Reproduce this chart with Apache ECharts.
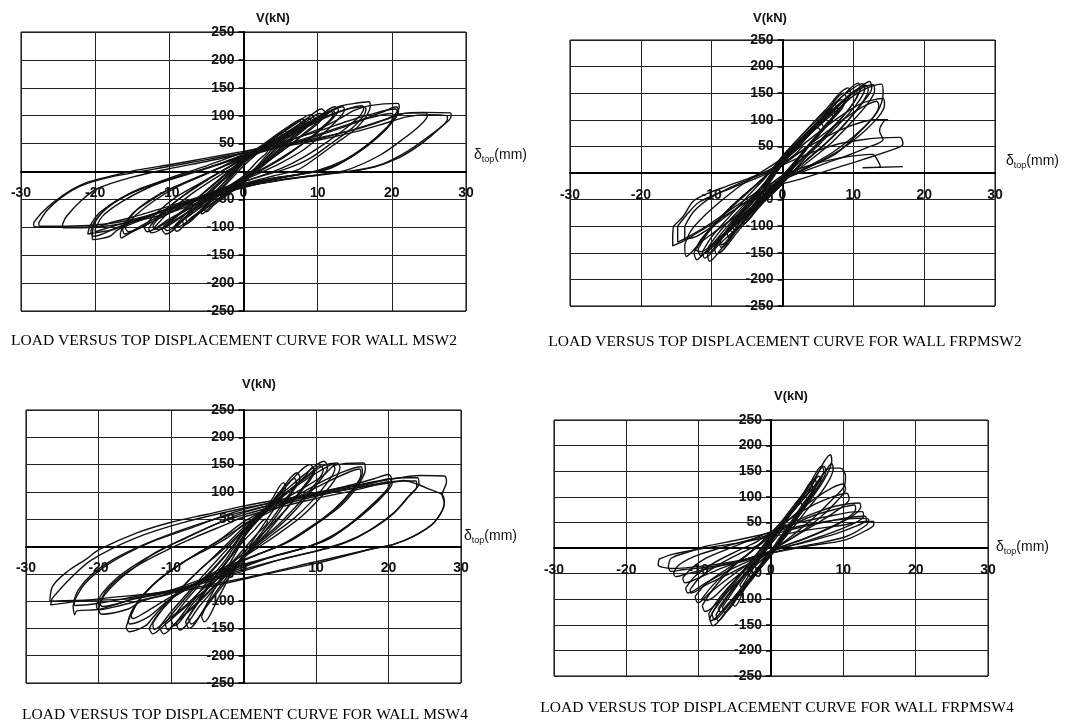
<!DOCTYPE html>
<html><head><meta charset="utf-8">
<script src="https://cdn.jsdelivr.net/npm/echarts@6/dist/echarts.min.js"></script>
<style>html,body{margin:0;padding:0;background:#fff}#c{width:1066px;height:722px}</style>
</head><body><div id="c"></div>
<script>
// ---- axis ticks ----
const xTicks = [-30, -20, -10, 0, 10, 20, 30];
const yTicks = [-250, -200, -150, -100, -50, 0, 50, 100, 150, 200, 250];
const panelTitles = [
  'LOAD VERSUS TOP DISPLACEMENT CURVE FOR WALL MSW2',
  'LOAD VERSUS TOP DISPLACEMENT CURVE FOR WALL FRPMSW2',
  'LOAD VERSUS TOP DISPLACEMENT CURVE FOR WALL MSW4',
  'LOAD VERSUS TOP DISPLACEMENT CURVE FOR WALL FRPMSW4'
];
const yName = 'V(kN)';

// ---- hysteresis loops [displacement mm, load kN] ----
const msw2Loops = [
  [[-3.3,-36],[-2,-18],[0,10],[1.5,28],[3,42],[3.3,38],[2,20],[0,-8],[-1.5,-25],[-3,-40],[-3.3,-36]],
  [[-5.4,-66],[-4,-45],[-2,-15],[0,15],[2,38],[4,58],[5,68],[5.4,62],[4,42],[2,12],[0,-15],[-2,-38],[-4,-60],[-5,-72],[-5.4,-66]],
  [[-5.8,-70],[-4,-42],[-2,-10],[0,20],[2.5,45],[4.5,64],[5.6,72],[5.9,66],[4.5,45],[2,8],[0,-20],[-2.5,-45],[-4.5,-64],[-5.6,-76],[-5.8,-70]],
  [[-7.8,-84],[-6,-65],[-3,-25],[0,15],[3,48],[6,78],[7.5,90],[7.9,84],[6,60],[3,22],[0,-15],[-3,-45],[-6,-75],[-7.5,-92],[-7.8,-84]],
  [[-8.2,-88],[-6,-58],[-3,-18],[0,22],[3,52],[6,80],[8,94],[8.3,88],[6.5,62],[3.5,25],[0,-12],[-3,-40],[-6,-72],[-8,-96],[-8.2,-88]],
  [[-9.5,-100],[-7,-72],[-4,-32],[0,18],[4,58],[7,85],[9,102],[9.5,96],[7,65],[4,28],[0,-15],[-4,-55],[-7,-82],[-9,-107],[-9.5,-100]],
  [[-9.2,-96],[-7,-66],[-4,-28],[0,16],[4,54],[7,80],[8.8,96],[9.1,90],[7,62],[4,25],[0,-18],[-4,-56],[-7,-84],[-9,-100],[-9.2,-96]],
  [[-11,-104],[-8.5,-75],[-5,-35],[0,20],[4,55],[8,88],[10.5,112],[11,106],[8.5,72],[5,35],[1,0],[-3,-35],[-7,-72],[-10.5,-112],[-11,-104]],
  [[-10.8,-98],[-8,-68],[-4,-22],[0,22],[5,62],[8.5,90],[10.3,104],[10.8,100],[8,65],[4,25],[0,-12],[-4,-48],[-8,-85],[-10.3,-106],[-10.8,-98]],
  [[-12.8,-102],[-11.5,-80],[-9,-52],[-6,-25],[-3,0],[0,22],[4,50],[8,82],[10.5,102],[12.3,116],[12.8,110],[11.5,88],[9,60],[6,32],[3,8],[0,-12],[-3,-35],[-6,-60],[-9,-85],[-12.4,-110],[-12.8,-102]],
  [[-12.2,-96],[-10.5,-70],[-8,-42],[-5,-15],[-2,8],[0,24],[4,52],[8,80],[11,104],[12,110],[12.3,104],[11,82],[8.5,55],[5.5,26],[2.5,3],[0,-14],[-4,-42],[-8,-72],[-11,-96],[-12,-104],[-12.2,-96]],
  [[-12,-100],[-10,-72],[-7,-40],[-3,-5],[0,18],[4,48],[8,78],[11,100],[11.8,108],[12.1,102],[10.5,78],[8,50],[5,22],[2,0],[0,-15],[-4,-45],[-8,-78],[-11.5,-104],[-12,-100]],
  [[-13.4,-100],[-12,-78],[-9,-45],[-5,-15],[-2,8],[0,24],[4,52],[8,80],[11,102],[13.4,116],[13.6,110],[12.5,90],[10.5,65],[8,38],[5,15],[2,-4],[-2,-28],[-6,-55],[-10,-85],[-13,-108],[-13.4,-100]],
  [[-16.6,-110],[-16,-93],[-14.7,-72],[-12.4,-51],[-10.2,-33],[-6,-10],[-3,8],[0,28],[4,55],[8,83],[11,104],[13,117],[15,122],[16.9,125],[17.1,118],[15.4,80],[12.2,48],[9.1,18],[7.3,3],[4,-8],[0,-22],[-4,-40],[-8,-62],[-12,-88],[-15,-108],[-16.5,-119],[-16.6,-110]],
  [[-16.3,-104],[-15.5,-86],[-14,-64],[-11.5,-42],[-8,-20],[-4,2],[0,24],[4,50],[8,78],[11,98],[13.5,110],[16.3,116],[16.5,110],[15,82],[12,52],[9,24],[6,6],[2,-10],[-2,-26],[-6,-46],[-10,-70],[-13.5,-95],[-16,-112],[-16.3,-104]],
  [[-16,-100],[-14.5,-78],[-12,-52],[-9,-28],[-5,-4],[0,26],[4,50],[8,76],[11,96],[14,112],[16,118],[16.2,112],[14.5,85],[11.5,55],[8,25],[5,5],[1,-14],[-3,-32],[-8,-60],[-12,-88],[-15.5,-108],[-16,-100]],
  [[-20.4,-115],[-20.1,-93],[-18.7,-69],[-16.5,-48],[-13.8,-30],[-10,-15],[-5,5],[0,30],[5,50],[10,75],[13,95],[15,110],[17,118],[20.8,122],[21,115],[20.2,98],[19.4,78],[16.3,42],[12.7,12],[10.5,1],[6,-8],[0,-22],[-5,-42],[-10,-66],[-14,-88],[-17,-105],[-18,-116],[-20.3,-122],[-20.4,-115]],
  [[-20.8,-100],[-19.5,-75],[-17,-52],[-14,-32],[-10,-12],[-5,10],[0,34],[5,52],[10,72],[14,90],[17,102],[20.5,112],[20.8,105],[19.5,80],[17,50],[14,22],[11.5,5],[7,-6],[0,-26],[-6,-48],[-11,-70],[-15,-90],[-17.5,-104],[-20,-110],[-21,-112],[-20.8,-100]],
  [[-20.6,-108],[-20,-88],[-18,-60],[-15,-38],[-11,-18],[-6,2],[0,28],[5,46],[10,66],[14,84],[17,98],[19,108],[20.6,116],[20.9,108],[20,88],[18,62],[15.5,35],[12.5,12],[9,-2],[4,-12],[0,-24],[-5,-45],[-10,-68],[-14,-86],[-17,-100],[-20.2,-116],[-20.6,-108]],
  [[-20,-104],[-19,-80],[-16.5,-55],[-13,-30],[-9,-10],[-4,10],[0,26],[5,44],[10,64],[14,82],[17,96],[20,104],[20.3,98],[19,75],[16.5,46],[13.5,20],[10,2],[5,-12],[0,-25],[-5,-46],[-10,-68],[-15,-88],[-20,-108],[-20,-104]],
  [[-24.4,-95],[-23.9,-81],[-21.8,-51],[-19.6,-30],[-15,-10],[-10,5],[-5,18],[0,32],[5,44],[10,58],[15,76],[19,93],[21,103],[24.6,105],[24.8,100],[23.9,84],[21.7,60],[18.5,30],[14,3],[10,-6],[5,-15],[0,-27],[-5,-42],[-10,-62],[-15,-82],[-18,-92],[-20,-100],[-24.3,-101],[-24.4,-95]],
  [[-28.3,-92],[-27.2,-74],[-25.5,-54],[-23.2,-33],[-21,-19],[-17.5,-7],[-14.2,3],[-10,12],[-5,24],[0,36],[5,47],[10,60],[15,75],[19,92],[21.6,104],[24,106],[27.9,105],[28,100],[27.7,92],[25.3,66],[22.1,36],[18.5,12],[14.9,1],[10,-6],[5,-15],[0,-29],[-5,-50],[-10,-74],[-15,-90],[-19.6,-99],[-24,-100],[-28.2,-99],[-28.3,-92]],
  [[-27.6,-92],[-26.5,-70],[-24.5,-46],[-22,-26],[-18,-10],[-13,2],[-8,14],[-3,26],[0,33],[5,44],[10,56],[15,71],[19,86],[22,98],[25,102],[27.4,100],[27.5,94],[26.5,78],[24,50],[21,25],[17.5,8],[13,-2],[8,-10],[3,-20],[0,-28],[-5,-46],[-10,-68],[-15,-86],[-20,-96],[-24,-98],[-27.5,-98],[-27.6,-92]]
];

const frpmsw2Loops = [
  [[-3.3,-42],[-2,-20],[0,15],[2,38],[3,50],[3.3,45],[2,25],[0,-12],[-2,-32],[-3,-48],[-3.3,-42]],
  [[-5.4,-80],[-3.5,-50],[-1.5,-12],[0,18],[2.5,52],[5,85],[5.4,78],[3.5,50],[1.5,15],[0,-12],[-2.5,-45],[-5,-88],[-5.4,-80]],
  [[-5.8,-88],[-4,-58],[-2,-18],[0,22],[3,62],[5.5,92],[5.8,85],[4,58],[2,22],[0,-15],[-3,-55],[-5.5,-95],[-5.8,-88]],
  [[-7.5,-104],[-5.5,-72],[-3,-30],[0,25],[3,62],[5,90],[7,120],[7.4,112],[5.5,80],[3,38],[1,5],[0,-15],[-3,-52],[-5,-80],[-7,-112],[-7.5,-104]],
  [[-7.9,-112],[-6,-80],[-3.5,-38],[-1,5],[0,28],[3,70],[5.5,102],[7.5,128],[7.8,120],[6,90],[3.5,50],[1,10],[-1,-20],[-3.5,-58],[-6,-92],[-7.5,-122],[-7.9,-112]],
  [[-7,-100],[-5,-68],[-2.5,-28],[0,22],[2.5,55],[5,88],[6.8,112],[7.1,105],[5.5,78],[3,40],[0.5,2],[-1.5,-28],[-4,-65],[-6.8,-108],[-7,-100]],
  [[-9,-130],[-7,-92],[-4.5,-50],[-2,-10],[0,25],[3,70],[6,112],[8.6,150],[9,142],[7.5,112],[5,72],[2.5,32],[0,-18],[-3,-55],[-6,-98],[-8.6,-140],[-9,-130]],
  [[-9.6,-142],[-7.5,-100],[-5,-58],[-2.5,-18],[0,30],[3,75],[6,118],[9.3,160],[9.6,150],[8,118],[5.5,78],[3,40],[0,-20],[-3,-60],[-6,-105],[-9.3,-152],[-9.6,-142]],
  [[-8.8,-128],[-7,-95],[-4.5,-55],[-2,-15],[0,22],[3,65],[6,105],[8.3,138],[8.7,130],[7,100],[4.5,62],[2,25],[0,-10],[-3,-50],[-6,-92],[-8.6,-135],[-8.8,-128]],
  [[-10.6,-150],[-9.5,-128],[-7,-88],[-4.5,-50],[-2,-15],[0,22],[3,65],[6,108],[8.5,145],[10.7,169],[11,160],[10,132],[7.5,90],[5,55],[2.5,22],[0,-10],[-3,-52],[-6,-100],[-8.5,-140],[-10.3,-166],[-10.6,-150]],
  [[-11.3,-148],[-10,-120],[-7.5,-82],[-5,-45],[-2.5,-10],[0,32],[3,75],[6,115],[9,150],[11.3,168],[11.6,158],[10.5,130],[8,92],[5.5,58],[3,25],[0,-20],[-3,-58],[-6,-98],[-9,-135],[-11,-160],[-11.3,-148]],
  [[-10.5,-140],[-9,-112],[-6.5,-75],[-4,-40],[-1.5,-5],[0,20],[3,62],[6,102],[9,140],[10.3,155],[10.6,148],[9.5,122],[7,85],[4.5,50],[2,18],[0,-8],[-3,-45],[-6,-88],[-9,-128],[-10.3,-150],[-10.5,-140]],
  [[-12.5,-150],[-11.5,-125],[-9.5,-95],[-7,-60],[-4,-25],[-1.5,5],[0,25],[3,62],[6,100],[9,140],[11,162],[12.3,172],[12.6,160],[11.5,135],[9,95],[6.5,60],[3.5,25],[0,-12],[-3,-45],[-6,-85],[-9,-125],[-11,-150],[-12.1,-163],[-12.5,-150]],
  [[-11.9,-142],[-10.5,-112],[-8,-75],[-5,-38],[-2,0],[0,28],[3,68],[6,105],[9,142],[11.8,165],[12.1,155],[11,128],[8.5,88],[6,55],[3,20],[0,-18],[-3,-50],[-6,-90],[-9,-128],[-11.6,-155],[-11.9,-142]],
  [[-12.3,-145],[-11,-118],[-8.5,-80],[-5.5,-42],[-2.5,-8],[0,28],[3,68],[6,105],[9,140],[11,158],[12.8,166],[13,155],[12,130],[9.5,92],[7,58],[4,25],[0,-16],[-3,-48],[-6,-88],[-9,-122],[-11.5,-148],[-12.3,-145]],
  [[-13.8,-135],[-13,-110],[-11,-80],[-8,-45],[-5,-15],[-2,10],[0,28],[4,75],[7,110],[10,145],[12,160],[14,167],[14.2,150],[13.3,113],[10.5,72],[7.6,37],[3.9,12],[0,-12],[-3,-40],[-6,-75],[-9,-105],[-11.5,-130],[-13.6,-157],[-13.8,-135]],
  [[-15.4,-100],[-14,-81],[-12.6,-53],[-10.3,-37],[-7.9,-25],[-4.6,-9],[-2,5],[0,22],[4,65],[8,105],[11,130],[13,138],[14.2,140],[14.4,128],[13.5,105],[11,72],[8,42],[5,20],[2,0],[0,-14],[-3,-38],[-6,-62],[-9,-88],[-12,-112],[-14,-128],[-15.5,-137],[-15.5,-118],[-15.4,-100]],
  [[-14.8,-100],[-13.5,-78],[-11.8,-55],[-9,-38],[-6,-22],[-3,-6],[0,15],[4,55],[8,95],[11,122],[13.3,135],[13.6,125],[12.5,100],[10,68],[7,38],[4,15],[1,-5],[-2,-22],[-5,-48],[-8,-75],[-11,-102],[-13.6,-122],[-14.8,-130],[-14.8,-100]],
  [[-13.8,-100],[-12.5,-72],[-10,-45],[-7,-25],[-4,-8],[-1.5,6],[0,18],[4,52],[8,80],[11,95],[13,100],[14.9,100],[14.3,97],[13.7,79],[14.2,63],[12,48],[9,32],[6,18],[3,3],[0,-12],[-3,-35],[-6,-62],[-9,-92],[-12,-118],[-13.8,-125],[-13.8,-100]],
  [[0,15],[4,38],[8,55],[11,62],[13.7,66],[16.6,67],[17,55],[16.4,48],[11.3,25],[6.7,6],[2.4,-12],[0,-20],[-2,-25],[0,-5],[4,15],[8,28],[12.7,35],[13.5,22],[13.8,12],[11.3,10],[17,12]]
];

const msw4Loops = [
  [[-3.3,-45],[-2,-22],[0,10],[1.5,30],[3,50],[3.3,45],[2,25],[0,-5],[-1.5,-28],[-3,-52],[-3.3,-45]],
  [[-5.8,-128],[-4.5,-90],[-2.5,-45],[-1,-10],[0,15],[2,50],[4,88],[5.5,117],[5.8,108],[4.5,75],[2.5,35],[0.5,-5],[-1.5,-45],[-3.5,-95],[-5.4,-138],[-5.8,-128]],
  [[-8,-138],[-6.5,-105],[-4.5,-65],[-2,-22],[0,20],[2.5,58],[5,100],[7.4,135],[7.8,125],[6.5,95],[4.5,55],[2,12],[0,-18],[-2.5,-60],[-5,-105],[-7.5,-150],[-8,-138]],
  [[-7.6,-130],[-6,-98],[-4,-58],[-1.5,-15],[0,18],[2.5,55],[5,95],[7,125],[7.3,118],[6,90],[4,52],[1.5,8],[0,-22],[-2.5,-65],[-5,-108],[-7.2,-142],[-7.6,-130]],
  [[-9.3,-140],[-7.5,-108],[-5,-65],[-2.5,-25],[0,25],[3,68],[6,112],[9.2,150],[9.7,140],[8,105],[5.5,62],[3,22],[0,-18],[-3,-62],[-6,-108],[-8.8,-153],[-9.3,-140]],
  [[-10,-135],[-8,-100],[-5.5,-62],[-3,-25],[0,25],[3,62],[6,98],[8.6,130],[9.5,145],[9.8,138],[8.5,110],[6,70],[3.5,35],[1,2],[-1,-24],[-4,-65],[-7,-105],[-9.5,-145],[-10,-135]],
  [[-11.6,-148],[-10,-120],[-7.5,-82],[-5,-45],[-2.5,-8],[0,30],[3,70],[6,105],[9,138],[11.1,156],[11.6,145],[10,112],[7.5,72],[5,38],[2,5],[0,-20],[-3,-58],[-6,-98],[-9,-135],[-11,-160],[-11.6,-148]],
  [[-10.8,-140],[-9,-110],[-6.5,-72],[-4,-38],[-1.5,0],[0,28],[3,66],[6,100],[9,132],[10.6,148],[11,140],[9.5,108],[7,70],[4.5,36],[1.5,2],[0,-22],[-3,-60],[-6,-100],[-9,-136],[-10.5,-152],[-10.8,-140]],
  [[-13,-150],[-12,-128],[-10,-98],[-7.5,-62],[-5,-30],[-2.5,2],[0,35],[3,70],[6,100],[9,130],[11,148],[12.9,153],[13.3,145],[12.5,120],[10.5,88],[8,55],[5,25],[2,-2],[0,-20],[-3,-52],[-6,-88],[-9,-122],[-11,-145],[-12.5,-160],[-13,-150]],
  [[-12.5,-140],[-11,-112],[-8.5,-75],[-6,-42],[-3,-8],[0,30],[3,66],[6,98],[9,126],[11.5,146],[12.3,150],[12.6,142],[11.5,116],[9.5,84],[7,52],[4,22],[1,-8],[-2,-32],[-5,-70],[-8,-108],[-11,-140],[-12.3,-152],[-12.5,-140]],
  [[-16.2,-148],[-15.7,-130],[-14.5,-100],[-12,-65],[-9,-35],[-6,-10],[-3,15],[0,45],[4,75],[8,105],[11,130],[12.5,148],[14,152],[16.6,153],[16.8,141],[15.7,110],[13.4,74],[9.7,38],[6,7],[1.4,-17],[-3,-40],[-7,-70],[-10,-95],[-12.5,-130],[-13.5,-145],[-15.8,-156],[-16.2,-148]],
  [[-15.9,-135],[-15.3,-115],[-13.8,-88],[-11.5,-58],[-8.5,-30],[-5,-5],[-2,18],[0,40],[4,70],[8,98],[11,120],[14,138],[16.2,146],[16.4,135],[15.2,105],[12.8,70],[9,34],[5.5,5],[1,-20],[-3,-44],[-7,-72],[-10.5,-100],[-13,-128],[-15.7,-142],[-15.9,-135]],
  [[-15.5,-126],[-14.5,-100],[-12.5,-70],[-10,-44],[-7,-18],[-3.5,10],[0,38],[4,66],[8,94],[11.5,118],[14.5,136],[16,142],[16.2,132],[15,104],[12.5,68],[9,32],[5,2],[1,-20],[-3,-44],[-7,-70],[-10.5,-96],[-13.5,-120],[-15.3,-132],[-15.5,-126]],
  [[-20,-116],[-19.5,-95],[-17.5,-65],[-15,-38],[-12,-10],[-8,15],[-4,40],[0,62],[5,80],[10,97],[15,113],[18,124],[20,132],[20.4,125],[20,108],[18,80],[15,45],[12,18],[9,0],[5,-15],[0,-35],[-5,-60],[-10,-85],[-14,-100],[-16,-115],[-19.6,-124],[-20,-116]],
  [[-20.3,-108],[-19.5,-86],[-17.5,-58],[-14.5,-30],[-11,-4],[-7,22],[-3,45],[0,58],[5,76],[10,92],[15,107],[18,117],[20.2,124],[20.5,116],[19.6,98],[17.5,70],[14.5,38],[11.5,12],[8,-4],[4,-18],[0,-38],[-5,-62],[-10,-86],[-14,-98],[-17,-108],[-20,-116],[-20.3,-108]],
  [[-19.8,-104],[-19,-82],[-17,-56],[-14,-30],[-10.5,-6],[-6.5,18],[-2.5,40],[0,54],[5,72],[10,88],[15,102],[18,112],[19.8,118],[20,110],[19,92],[17,66],[14,34],[11,10],[7.5,-6],[3,-22],[0,-33],[-5,-56],[-10,-80],[-15,-96],[-19.5,-110],[-19.8,-104]],
  [[-23.5,-110],[-23.3,-99],[-22,-70],[-19.5,-40],[-16,-12],[-12,12],[-7,35],[-3,55],[0,68],[5,84],[10,99],[15,111],[19,121],[22,126],[24,126],[24.2,115],[23,95],[21,65],[18,35],[15,12],[12,-2],[8,-15],[4,-28],[0,-45],[-5,-65],[-10,-82],[-15,-95],[-19.8,-115],[-23,-118],[-23.3,-125],[-23.5,-110]],
  [[-23.4,-100],[-22.8,-80],[-21,-52],[-18,-24],[-14,2],[-9,28],[-4,50],[0,64],[5,80],[10,94],[15,106],[19,116],[22,120],[23.8,120],[23.9,110],[22.5,88],[20.5,58],[17.5,30],[14,8],[10,-8],[5,-24],[0,-42],[-5,-62],[-10,-80],[-15,-92],[-20,-104],[-23.2,-108],[-23.4,-100]],
  [[-26.7,-96],[-26.3,-72],[-24.4,-47],[-21.7,-23],[-19.8,-5],[-14.7,25],[-10.1,44],[-5,59],[0,74],[5,86],[10.6,98],[15.2,110],[19.8,122],[24.4,130],[27.7,129],[28,118],[27.4,95],[27.7,80],[26.3,44],[23.5,19],[20.7,4],[17.5,-5],[10.6,-29],[5,-45],[0,-60],[-5,-74],[-10,-84],[-15.7,-96],[-20,-98],[-23.3,-99],[-26.7,-100],[-26.7,-96]],
  [[-26.4,-95],[-24,-60],[-21,-25],[-15,15],[-8,45],[0,70],[5,82],[10,95],[15,106],[20,116],[22.1,121],[24,114],[25.8,104],[27.4,95],[27.7,80],[26.3,44],[23.5,19],[20.7,4],[17.5,-5],[10,-28],[0,-58],[-10,-82],[-20,-96],[-26.6,-107],[-26.4,-95]]
];

const frpmsw4Loops = [
  [[-2.2,-35],[-1.2,-15],[0,8],[1,25],[2,45],[2.2,40],[1.2,20],[0,-5],[-1,-22],[-2,-40],[-2.2,-35]],
  [[-4.3,-72],[-3,-45],[-1,-8],[0,12],[2,50],[4,90],[4.3,82],[3,55],[1,12],[0,-8],[-2,-42],[-4,-80],[-4.3,-72]],
  [[-6.7,-115],[-5,-80],[-3,-40],[-1,-5],[0,15],[2,55],[4,95],[6,135],[6.3,125],[5,95],[3,50],[1,8],[0,-12],[-2,-50],[-4.5,-95],[-6.4,-126],[-6.7,-115]],
  [[-5.3,-108],[-4,-75],[-2,-30],[0,12],[2,52],[4,92],[5.5,125],[5.8,116],[4.5,88],[2.5,45],[0.5,0],[-1.5,-35],[-3.5,-75],[-5,-114],[-5.3,-108]],
  [[-7.3,-118],[-5.8,-88],[-3.5,-48],[-1,-8],[0,18],[2.5,62],[5,105],[6.6,140],[6.9,132],[5.8,105],[3.8,65],[1.5,18],[0,-10],[-2.5,-52],[-5,-95],[-7,-125],[-7.3,-118]],
  [[-8.2,-128],[-6.5,-95],[-4,-50],[-1.5,-10],[0,20],[2.5,65],[5,115],[7,160],[7.3,150],[6,115],[4,70],[2,25],[0,-12],[-2.5,-55],[-5.5,-105],[-7.8,-140],[-8.2,-128]],
  [[-8.5,-138],[-7,-100],[-4.5,-55],[-2,-12],[0,25],[3,80],[6,135],[8.2,182],[8.4,170],[7.2,130],[5,85],[2.5,35],[0,-15],[-3,-65],[-6,-120],[-8,-152],[-8.5,-138]],
  [[-8.6,-128],[-7,-95],[-4.5,-55],[-2,-15],[0,22],[3,72],[5.5,112],[7.5,150],[8.4,165],[8.6,155],[7.5,120],[5,75],[2.5,30],[0,-12],[-3,-60],[-6,-110],[-8.3,-142],[-8.6,-128]],
  [[-7.6,-130],[-6,-95],[-3.5,-50],[-1,-5],[0,20],[3,75],[5.5,120],[7.3,160],[7.6,150],[6.5,120],[4.5,80],[2,30],[0,-12],[-3,-62],[-5.5,-110],[-7.3,-142],[-7.6,-130]],
  [[-9.5,-112],[-8,-80],[-5.5,-40],[-3,-10],[0,30],[3,75],[6,120],[8.2,156],[9.6,156],[10.3,140],[10.1,120],[8.5,95],[6,60],[3,25],[0,-8],[-3,-45],[-6,-85],[-9.1,-124],[-9.5,-112]],
  [[-9.6,-100],[-8,-72],[-5.5,-38],[-3,-10],[0,24],[3,62],[6,96],[8.5,118],[10,125],[10.3,115],[9,90],[6.5,56],[3.5,25],[0,-6],[-3,-36],[-6,-70],[-8.8,-102],[-9.6,-100]],
  [[-10.5,-95],[-9,-70],[-6,-40],[-3,-10],[0,28],[3,60],[6,85],[8.5,100],[10.5,107],[10.8,95],[9,72],[6,45],[3,20],[0,-5],[-3,-30],[-6,-60],[-8.5,-88],[-10.1,-107],[-10.5,-95]],
  [[-11.8,-78],[-10.5,-55],[-8,-30],[-5,-8],[-2,12],[0,30],[3,50],[6,68],[9,82],[12.2,88],[12.4,80],[11,60],[8,38],[5,20],[2,5],[0,-5],[-3,-25],[-6,-45],[-9,-68],[-11.5,-88],[-11.8,-78]],
  [[-11.2,-82],[-10,-60],[-7.5,-35],[-4.5,-12],[-1.5,8],[0,26],[3,46],[6,64],[9,76],[11.5,84],[11.7,76],[10.5,58],[7.5,36],[4.5,18],[1.5,3],[0,-8],[-3,-30],[-6,-52],[-9,-72],[-11,-88],[-11.2,-82]],
  [[-12.2,-58],[-11,-40],[-9,-20],[-6,-2],[-3,15],[0,32],[4,50],[8,62],[11,70],[12.6,71],[12.8,62],[11,45],[8,28],[5,14],[2,2],[0,-6],[-3,-20],[-6,-35],[-9,-52],[-11.9,-68],[-12.2,-58]],
  [[-13.5,-50],[-12.8,-34],[-10.5,-16],[-7,0],[-3.5,14],[0,26],[4,40],[8,52],[11,60],[13,62],[13.2,54],[12,44],[9,28],[5,12],[2,2],[0,-6],[-4,-24],[-8,-38],[-11.5,-50],[-13.2,-56],[-13.5,-50]],
  [[-14.2,-38],[-13.8,-20],[-11,-6],[-9.1,3],[-4.5,16],[0,30],[4.7,45],[9,55],[12,58],[13.5,56],[13.2,45],[10.3,22],[6,8],[3,0],[0,-10],[-4.5,-28],[-9.1,-38],[-12,-42],[-13.8,-46],[-14.2,-38]],
  [[-15.5,-22],[-13.8,-13],[-9.1,0],[-4.5,10],[0,22],[5,35],[10,45],[13,52],[14.2,52],[14.2,45],[13.5,37],[10.3,16],[4.7,3],[0,-10],[-4.5,-25],[-9.1,-35],[-13.8,-40],[-15.6,-33],[-15.5,-22]]
];

const panelData = [msw2Loops, frpmsw2Loops, msw4Loops, frpmsw4Loops];

// ---- layout (pixels) ----
const layout = [
  {l:21, r:466, t:32, b:311, vx:274, vy:20, dx:474, dy:157, tx:234, ty:341},
  {l:570, r:995, t:40, b:306, vx:771, vy:20, dx:1006, dy:163, tx:785, ty:342},
  {l:26, r:461, t:410, b:683, vx:260, vy:386, dx:464, dy:538, tx:245, ty:715},
  {l:554, r:988, t:420, b:676, vx:792, vy:398, dx:996, dy:549, tx:777, ty:708}
];

const FONT = 'Liberation Sans, Arial, sans-serif';
const xMin = xTicks[0], xMax = xTicks[xTicks.length - 1];
const yMin = yTicks[0], yMax = yTicks[yTicks.length - 1];
const grids = [], xAxes = [], yAxes = [], series = [], graphics = [];
layout.forEach((p, i) => {
  const w = p.r - p.l, h = p.b - p.t;
  grids.push({left:p.l, top:p.t, width:w, height:h, show:true,
    borderColor:'#000', borderWidth:1, backgroundColor:'transparent'});
  xAxes.push({gridIndex:i, type:'value', min:xMin, max:xMax, interval:xTicks[1] - xTicks[0],
    position:'bottom', offset: -h * (0 - yMin) / (yMax - yMin),
    axisLine:{onZero:false, lineStyle:{color:'#000', width:2}},
    axisTick:{show:false},
    axisLabel:{margin:15, fontSize:14, fontWeight:'bold', color:'#111', fontFamily:FONT, hideOverlap:false},
    splitLine:{show:true, lineStyle:{color:'#222', width:1}}});
  yAxes.push({gridIndex:i, type:'value', min:yMin, max:yMax, interval:yTicks[1] - yTicks[0],
    position:'left', offset: -w * (0 - xMin) / (xMax - xMin),
    axisLine:{onZero:false, lineStyle:{color:'#000', width:2}},
    axisTick:{show:true, length:5, lineStyle:{color:'#000', width:1.5}},
    axisLabel:{margin:9, fontSize:14, fontWeight:'bold', color:'#111', fontFamily:FONT, hideOverlap:false,
      formatter: v => v === 0 ? '' : String(v)},
    splitLine:{show:true, lineStyle:{color:'#222', width:1}}});
  panelData[i].forEach(loop => {
    series.push({type:'line', xAxisIndex:i, yAxisIndex:i, data:loop, showSymbol:false,
      smooth:0.3, silent:true, animation:false, z:3,
      lineStyle:{color:'#111', width:1.4}});
  });
  graphics.push({type:'text', left:p.vx - 18, top:p.vy - 8,
    style:{text:yName, font:'bold 13px ' + FONT, fill:'#111'}});
  graphics.push({type:'text', left:p.dx, top:p.dy - 9,
    style:{text:'{d|δ}{s|top}{d|(mm)}', fill:'#111',
      rich:{d:{font:'14px ' + FONT, fill:'#111', verticalAlign:'bottom'},
            s:{font:'9px ' + FONT, fill:'#111', verticalAlign:'bottom', padding:[0,0,-2,0]}}}});
  graphics.push({type:'text', x:p.tx, y:p.ty,
    style:{text:panelTitles[i], font:'15.5px Liberation Serif, Times New Roman, serif', fill:'#000',
      textAlign:'center', textVerticalAlign:'middle'}});
});

const chart = echarts.init(document.getElementById('c'), null, {renderer:'canvas'});
chart.setOption({backgroundColor:'#fff', animation:false, grid:grids, xAxis:xAxes, yAxis:yAxes,
  series:series, graphic:graphics});
</script></body></html>
